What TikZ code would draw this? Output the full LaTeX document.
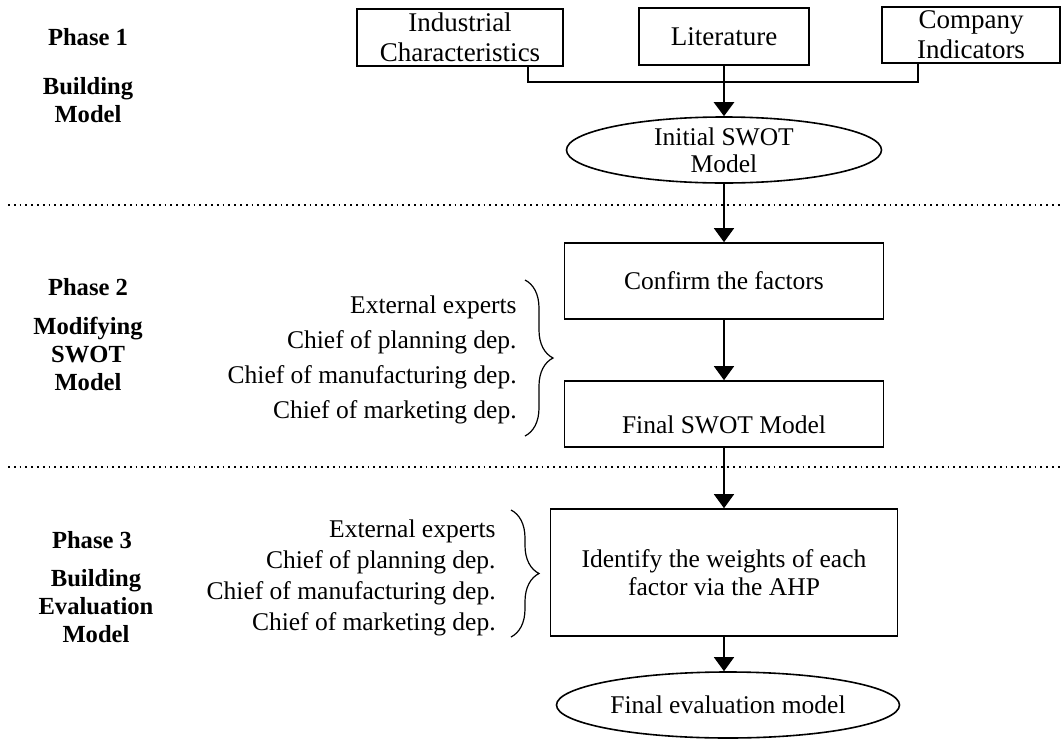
\documentclass[tikz,border=0pt]{standalone}
\usepackage{fontspec}
\setmainfont{Liberation Serif}
\usetikzlibrary{arrows.meta,shapes.geometric,decorations.pathreplacing}

\begin{document}
\begin{tikzpicture}[x=0.5pt,y=-0.5pt,
  box/.style={draw, line width=0.8pt, inner sep=0pt, align=center, font=\fontsize{12.75}{14}\selectfont},
  srcbox/.style={box, font=\fontsize{13.5}{15}\selectfont},
  oval/.style={ellipse, draw, line width=0.8pt, inner sep=0pt, align=center, font=\fontsize{12.75}{13.5}\selectfont},
  flow/.style={line width=0.65pt, -{Triangle[width=10pt,length=7pt]}},
  phase/.style={align=center, font=\fontsize{12.3}{14}\selectfont\bfseries},
  who/.style={anchor=east, align=right, inner sep=0pt},
  curly/.style={decorate, decoration={brace, amplitude=14pt}, line width=0.6pt},
  sep/.style={dotted, line width=0.9pt}]
  \useasboundingbox (0,0) rectangle (1062,740);

  % -------- phase 1: sources --------
  \node[srcbox, minimum width=103pt, minimum height=28.5pt] (ind) at (460,37.5) {Industrial\\Characteristics};
  \node[srcbox, minimum width=85pt, minimum height=28.5pt] (lit) at (724,36.5) {Literature};
  \node[srcbox, minimum width=89pt, minimum height=28pt] (comp) at (971,35) {Company\\Indicators};
  \node[oval, minimum width=157.5pt, minimum height=33pt] (init) at (724,150) {Initial SWOT\\Model};

  \coordinate (indout) at ([xshift=34pt]ind.south);
  \coordinate (compout) at ([xshift=-26.5pt]comp.south);
  \coordinate (join) at (724,82);
  \draw[line width=0.65pt] (indout) |- (join) -| (compout);
  \draw[flow, line width=1.3pt] (lit.south) -- (init.north);

  \node[phase, anchor=base] (ph1) at (88,45) {Phase 1};
  \node[phase] (ph1name) at (88,100.5) {Building\\Model};

  % -------- phase separators --------
  \foreach \y in {205,467} {
    \draw[sep] (8,\y) -- (1062,\y);
  }

  % -------- phase 2: modifying --------
  \node[box, minimum width=159.5pt, minimum height=38pt] (conf) at (724,281) {Confirm the factors};
  \node[box, minimum width=159.5pt, minimum height=33pt, text height=19pt, text depth=0pt] (fswot) at (724,414) {Final SWOT Model};
  \draw[flow] (init.south) -- (conf.north);
  \draw[flow] (conf) -- (fswot);

  \node[who, font=\fontsize{12.75}{17.5}\selectfont] (team2) at (517,360)
    {External experts\\Chief of planning dep.\\Chief of manufacturing dep.\\Chief of marketing dep.};
  \draw[curly] (525,280) -- (525,436);

  \node[phase, anchor=base] (ph2) at (88,295) {Phase 2};
  \node[phase] (ph2name) at (88,354) {Modifying\\SWOT\\Model};

  % -------- phase 3: evaluation --------
  \node[box, minimum width=173.5pt, minimum height=63.5pt] (ahp) at (724,572.5) {Identify the weights of each\\factor via the AHP};
  \node[oval, minimum width=171.5pt, minimum height=33pt] (eval) at (728,705) {Final evaluation model};
  \draw[flow] (fswot) -- (ahp);
  \draw[flow] (ahp.south) -- (ahp.south |- eval.north);

  \node[who, font=\fontsize{12.75}{15.5}\selectfont] (team3) at (496,578)
    {External experts\\Chief of planning dep.\\Chief of manufacturing dep.\\Chief of marketing dep.};
  \draw[curly] (511,510) -- (511,637);

  \node[phase, anchor=base] (ph3) at (92,548) {Phase 3};
  \node[phase] (ph3name) at (96,606.5) {Building\\Evaluation\\Model};
\end{tikzpicture}
\end{document}
